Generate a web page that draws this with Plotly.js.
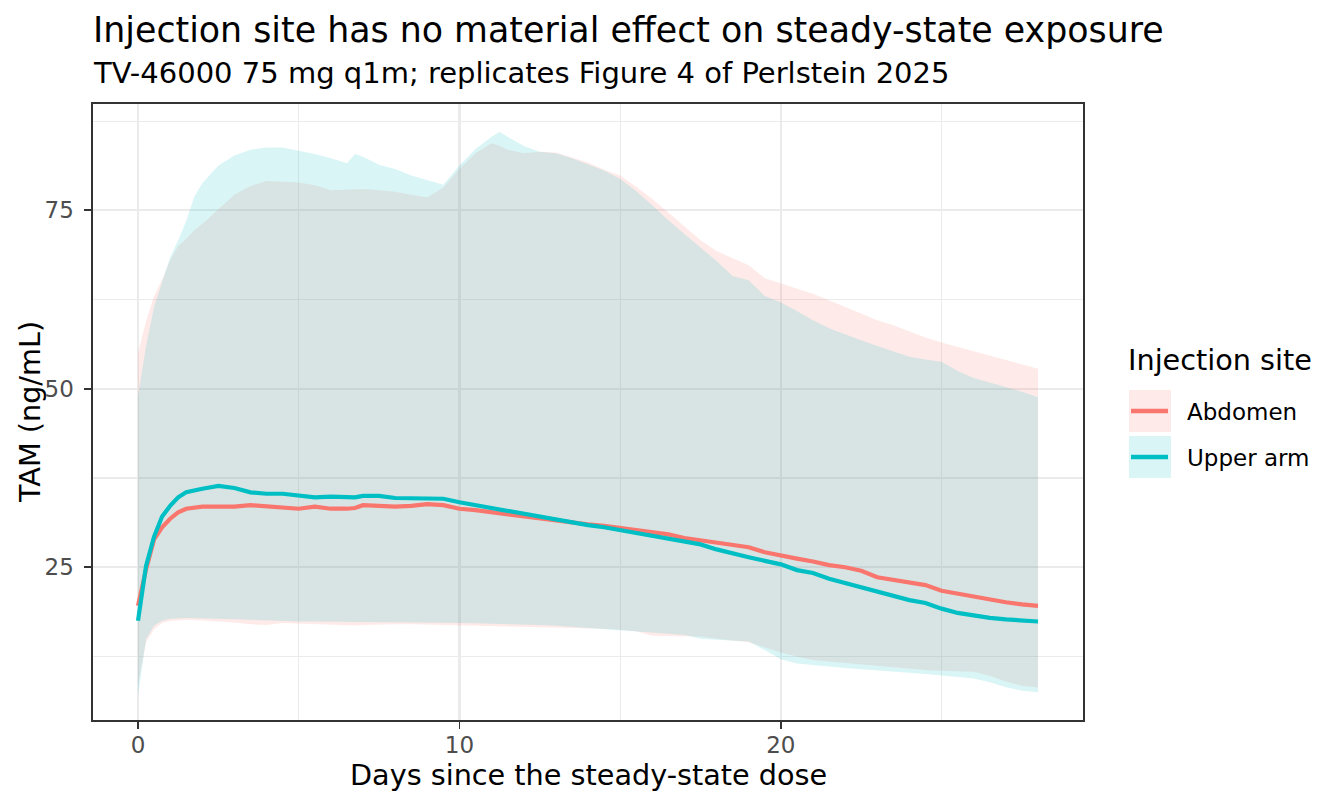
<!DOCTYPE html>
<html>
<head>
<meta charset="utf-8">
<script src="https://cdn.plot.ly/plotly-3.0.1.min.js"></script>
<style>
  html, body { margin: 0; padding: 0; background: #ffffff; }
  #chart { width: 1344px; height: 806px; }
</style>
</head>
<body>
<div id="chart"></div>
<script>
// days since the steady-state dose
var days = [0, 0.25, 0.5, 0.75, 1, 1.25, 1.5, 1.75, 2, 2.5, 3, 3.5, 4, 4.5, 5, 5.5, 6, 6.5, 6.75,
  7, 7.5, 8, 8.5, 9, 9.5, 10, 10.5, 11, 11.25, 11.5, 12, 12.5, 13, 13.5, 14, 14.5, 15, 15.5,
  16, 16.5, 17, 17.5, 18, 18.5, 19, 19.5, 20, 20.5, 21, 21.5, 22, 22.5, 23, 23.5, 24, 24.5,
  25, 25.5, 26, 26.5, 27, 27.5, 28];

// Abdomen: median and interval
var abdMid = [19.6, 24.7, 28.9, 30.6, 31.8, 32.7, 33.2, 33.4, 33.5, 33.5, 33.5, 33.7, 33.5, 33.4, 33.2, 33.5, 33.2, 33.2, 33.3,
  33.7, 33.6, 33.5, 33.6, 33.85, 33.7, 33.2, 33.0, 32.7, 32.6, 32.5, 32.2, 31.8, 31.5, 31.2, 31.0, 30.8, 30.5, 30.3,
  30.0, 29.6, 29.1, 28.8, 28.5, 28.2, 27.8, 27.1, 26.6, 26.2, 25.8, 25.3, 25.0, 24.5, 23.6, 23.2, 22.9, 22.5,
  21.7, 21.3, 20.8, 20.4, 20.1, 19.8, 19.6];
var abdLo = [8.5, 14.5, 16.3, 17.2, 17.5, 17.6, 17.65, 17.6, 17.55, 17.4, 17.25, 17.0, 16.9, 17.2, 17.1, 17.0, 16.9, 16.8, 16.85,
  16.9, 17.0, 17.0, 17.0, 16.95, 16.95, 16.9, 16.9, 16.85, 16.8, 16.8, 16.75, 16.7, 16.65, 16.55, 16.5, 16.4, 16.25, 16.05,
  15.4, 15.35, 15.4, 15.3, 15.0, 14.8, 14.5, 13.8, 13.05, 12.5, 12.0, 11.8, 11.6, 11.4, 11.25, 11.05, 10.75, 10.6,
  10.5, 10.45, 10.35, 9.8, 9.0, 8.4, 8.15];
var abdHi = [55, 59.5, 63.0, 65.3, 68.0, 70.0, 71.0, 72.2, 73.1, 75.2, 77.2, 78.4, 79.1, 79.0, 78.9, 78.5, 77.8, 77.9, 78.0,
  78.0, 77.8, 77.6, 77.2, 76.8, 78.2, 80.8, 83.0, 84.4, 84.0, 83.5, 83.0, 83.2, 83.1, 82.4, 81.7, 80.7, 79.9, 78.3,
  76.6, 74.7, 72.8, 70.8, 69.3, 68.3, 67.3, 65.5, 64.8, 64.1, 63.3, 62.4, 61.5, 60.6, 59.6, 58.9, 58.0, 57.2,
  56.5, 55.9, 55.2, 54.6, 54.0, 53.4, 52.8];

// Upper arm: median and interval
var armMid = [17.5, 25.2, 29.3, 32.1, 33.6, 34.8, 35.5, 35.8, 36.0, 36.4, 36.1, 35.5, 35.3, 35.3, 35.0, 34.8, 34.9, 34.8, 34.8,
  35.0, 35.0, 34.7, 34.7, 34.7, 34.6, 34.1, 33.7, 33.2, 33.0, 32.8, 32.4, 32.0, 31.6, 31.3, 30.9, 30.6, 30.2, 29.8,
  29.5, 29.1, 28.6, 28.2, 27.5, 26.9, 26.4, 25.9, 25.4, 24.6, 24.2, 23.4, 22.8, 22.2, 21.7, 21.1, 20.4, 20.0,
  19.2, 18.6, 18.2, 17.9, 17.7, 17.5, 17.4];
var armLo = [7.0, 14.9, 16.8, 17.5, 17.8, 17.9, 17.9, 17.85, 17.85, 17.8, 17.7, 17.6, 17.5, 17.5, 17.4, 17.4, 17.35, 17.35, 17.35,
  17.35, 17.3, 17.3, 17.3, 17.25, 17.25, 17.2, 17.15, 17.1, 17.1, 17.05, 17.0, 16.9, 16.8, 16.65, 16.55, 16.4, 16.25, 16.1,
  15.9, 15.7, 15.5, 15.0, 14.85, 14.75, 14.6, 13.4, 12.1, 11.5, 11.25, 11.1, 10.9, 10.75, 10.6, 10.45, 10.25, 10.05,
  9.85, 9.65, 9.4, 8.9, 8.2, 7.7, 7.5];
var armHi = [49, 56, 61.5, 65.0, 68.4, 70.8, 73.5, 76.9, 78.8, 81.3, 82.7, 83.5, 83.8, 83.8, 83.4, 82.9, 82.3, 81.6, 82.9,
  82.5, 81.4, 80.8, 79.9, 79.2, 78.6, 81.3, 83.6, 85.3, 86.0, 85.3, 84.0, 83.2, 83.0, 82.3, 81.5, 80.6, 79.4, 77.7,
  75.7, 73.6, 71.7, 69.8, 67.9, 65.8, 65.2, 63.0, 62.1, 60.9, 59.6, 58.5, 57.6, 56.8, 56.0, 55.3, 54.5, 54.1,
  53.8, 52.5, 51.5, 50.9, 50.3, 49.6, 48.8];

var siteNames = ['Abdomen', 'Upper arm'];
var xTicks = [0, 10, 20];
var yTicks = [25, 50, 75];

var lineCols = ['#F8766D', '#00BFC4'];
var fillCols = ['rgba(248,118,109,0.15)', 'rgba(0,191,196,0.15)'];
var font = 'DejaVu Sans';

// plot panel in pixels
var L = 93, R = 1083, T = 104, B = 720;
function px(X) { return (X - L) / (R - L); }
function py(Y) { return (B - Y) / (B - T); }

var traces = [];
var groups = [[abdLo, abdHi], [armLo, armHi]];
groups.forEach(function (g, i) {
  traces.push({ x: days, y: g[0], type: 'scatter', mode: 'lines', line: { width: 0 },
    hoverinfo: 'skip', showlegend: false });
  traces.push({ x: days, y: g[1], type: 'scatter', mode: 'lines', line: { width: 0 },
    fill: 'tonexty', fillcolor: fillCols[i], hoverinfo: 'skip', showlegend: false });
});
[abdMid, armMid].forEach(function (m, i) {
  traces.push({ x: days, y: m, type: 'scatter', mode: 'lines', name: siteNames[i],
    line: { color: lineCols[i], width: 4.2 }, showlegend: false });
});

var axisCommon = {
  showline: true, mirror: true, linecolor: '#333333', linewidth: 1.6,
  showgrid: true, gridcolor: '#ebebeb', gridwidth: 2.2,
  zeroline: false, ticks: 'outside', ticklen: 7, tickwidth: 1.8, tickcolor: '#333333',
  tickfont: { family: font, size: 23, color: '#4d4d4d' }
};

var layout = {
  width: 1344, height: 806,
  margin: { l: L, r: 1344 - R, t: T, b: 806 - B },
  paper_bgcolor: '#ffffff', plot_bgcolor: '#ffffff',
  xaxis: Object.assign({}, axisCommon, {
    range: [-1.4, 29.4], tickmode: 'array', tickvals: xTicks, ticklabelstandoff: -3,
    minor: { dtick: 5, tick0: 0, showgrid: true, gridcolor: '#ebebeb', gridwidth: 1.2, ticks: '' }
  }),
  yaxis: Object.assign({}, axisCommon, {
    range: [3.6, 89.9], tickmode: 'array', tickvals: yTicks, ticklabelstandoff: 6,
    minor: { dtick: 12.5, tick0: 0, showgrid: true, gridcolor: '#ebebeb', gridwidth: 1.2, ticks: '' }
  }),
  showlegend: false,
  annotations: [
    { text: 'Injection site has no material effect on steady-state exposure', xref: 'paper', yref: 'paper',
      x: px(91), y: py(30), xanchor: 'left', yanchor: 'middle', showarrow: false,
      font: { family: font, size: 34.8, color: '#000000' } },
    { text: 'TV-46000 75 mg q1m; replicates Figure 4 of Perlstein 2025', xref: 'paper', yref: 'paper',
      x: px(91), y: py(73), xanchor: 'left', yanchor: 'middle', showarrow: false,
      font: { family: font, size: 29, color: '#000000' } },
    { text: 'Days since the steady-state dose', xref: 'paper', yref: 'paper',
      x: 0.5, y: py(775), xanchor: 'center', yanchor: 'middle', showarrow: false,
      font: { family: font, size: 28.7, color: '#000000' } },
    { text: 'TAM (ng/mL)', xref: 'paper', yref: 'paper', textangle: -90,
      x: px(30), y: 0.5, xanchor: 'center', yanchor: 'middle', showarrow: false,
      font: { family: font, size: 28.7, color: '#000000' } },
    { text: 'Injection site', xref: 'paper', yref: 'paper',
      x: px(1126), y: py(360), xanchor: 'left', yanchor: 'middle', showarrow: false,
      font: { family: font, size: 28.7, color: '#000000' } }
  ],
  shapes: []
};

// legend keys drawn by hand, ggplot style
var keyTop = [390, 436];
siteNames.forEach(function (name, i) {
  var y0 = keyTop[i], y1 = keyTop[i] + 42, yc = (y0 + y1) / 2;
  layout.shapes.push({ type: 'rect', xref: 'paper', yref: 'paper',
    x0: px(1129), x1: px(1171), y0: py(y1), y1: py(y0),
    fillcolor: fillCols[i], line: { width: 0 } });
  layout.shapes.push({ type: 'line', xref: 'paper', yref: 'paper',
    x0: px(1131), x1: px(1168), y0: py(yc), y1: py(yc),
    line: { color: lineCols[i], width: 4.4 } });
  layout.annotations.push({ text: name, xref: 'paper', yref: 'paper',
    x: px(1185), y: py(yc + 0.5), xanchor: 'left', yanchor: 'middle', showarrow: false,
    font: { family: font, size: 23, color: '#000000' } });
});

Plotly.newPlot('chart', traces, layout, { displayModeBar: false, staticPlot: true });
</script>
</body>
</html>
